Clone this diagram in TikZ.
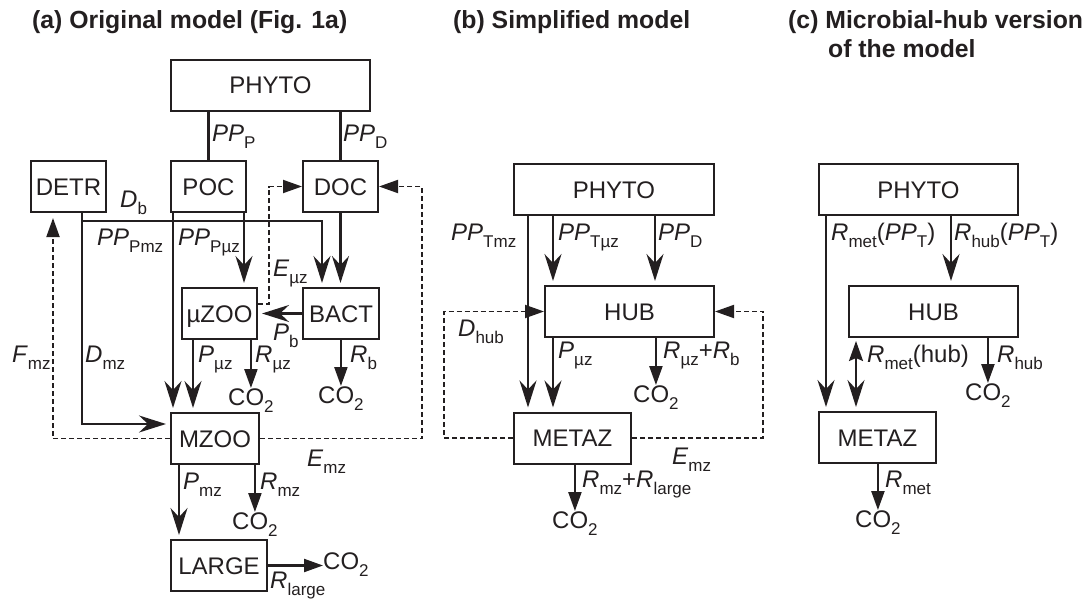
\documentclass[tikz,border=0pt]{standalone}
\usepackage{fontspec}
\setmainfont{Liberation Sans}
\usetikzlibrary{arrows.meta}
\definecolor{ink}{HTML}{231F20}
\newcommand{\lblfont}{\fontsize{24}{28}\selectfont}
\newcommand{\ttlfont}{\fontsize{24.8}{29}\selectfont\bfseries}
\newcommand{\lsb}[1]{\raisebox{-7pt}{\fontsize{17}{17}\selectfont #1}}
\tikzset{
    box/.style={draw=ink, line width=2pt, fill=white, inner sep=0pt,
        minimum height=51pt, text height=17pt, text depth=0pt, font=\lblfont, text=ink},
    link/.style={draw=ink, line width=2.2pt},
    flow/.style={link, -{Stealth[length=27pt,width=17pt,inset=9pt]}, shorten >=4pt},
    resp/.style={link, -{Triangle[length=19pt,width=13pt]}},
    excr/.style={draw=ink, line width=1.9pt, dash pattern=on 5pt off 3pt,
        -{Triangle[length=19pt,width=13pt]}},
    tag/.style={anchor=base west, inner sep=0pt, font=\lblfont, text=ink},
    title/.style={anchor=base west, inner sep=0pt, font=\ttlfont, text=ink},
}
\begin{document}
\begin{tikzpicture}[x=1pt, y=-1pt]
    \useasboundingbox (0,0) rectangle (1092,599);

    % titles
    \node[title] (ttlA) at (32,29) {(a) Original model (Fig. 1a)};
    \node[title] (ttlB) at (453,29) {(b) Simplified model};
    \node[title] (ttlC) at (788,29) {(c) Microbial-hub version};
    \node[title] (ttlC2) at (828,58) {of the model};

    % (a) original model
    \node[box, minimum width=199pt] (phyA) at (270.5,85.5) {PHYTO};
    \node[box, minimum width=75pt] (detrA) at (68.5,186.5) {DETR};
    \node[box, minimum width=75pt] (pocA) at (208.5,186.5) {POC};
    \node[box, minimum width=75pt] (docA) at (340.5,186.5) {DOC};
    \node[box, minimum width=75pt] (muA) at (219.5,313.5) {µZOO};
    \node[box, minimum width=76pt] (bactA) at (341,313.5) {BACT};
    \node[box, minimum width=88pt] (mzA) at (215,438.5) {MZOO};
    \node[box, minimum width=96pt] (largeA) at (219,565.5) {LARGE};
    \node[tag] (co2muA) at (228,405) {CO\lsb{2}};
    \node[tag] (co2bA) at (318,403) {CO\lsb{2}};
    \node[tag] (co2mzA) at (232,529) {CO\lsb{2}};
    \node[tag] (co2lgA) at (323,569) {CO\lsb{2}};

    \draw[link] (phyA.south -| pocA.north) -- (pocA.north);
    \draw[link] (phyA.south -| docA.north) -- (docA.north);
    \coordinate (dA) at ([xshift=13.5pt]detrA.south);
    \coordinate (dbA) at ([yshift=-8pt]dA);
    \draw[flow] (dA) |- ([yshift=14.5pt]mzA.west);
    \draw[flow] (dbA) -| ([xshift=-19pt]bactA.north);
    \draw[flow] ([xshift=3pt]pocA.south west) -- ([xshift=3pt]pocA.south west |- mzA.north);
    \draw[flow] ([xshift=-3pt]pocA.south east) -- ([xshift=-3pt]pocA.south east |- muA.north);
    \draw[flow] (docA.south) -- (docA.south |- bactA.north);
    \draw[flow] (bactA.west) -- (muA.east);
    \draw[excr] ([yshift=9.5pt]muA.east) -- ++(11,0) |- (docA.west);
    \draw[resp] (bactA.south -| co2bA.north) -- (co2bA.north);
    \draw[flow] ([xshift=12pt]muA.south west) -- ([xshift=12pt]muA.south west |- mzA.north);
    \draw[resp] (muA.south -| co2muA.north) -- (co2muA.north);
    \draw[excr, shorten >=5pt] (mzA.west) -| ([xshift=-15.5pt]detrA.south);
    \draw[excr] (mzA.east) -| ([xshift=43pt]docA.east) -- (docA.east);
    \draw[flow] ([xshift=9pt]mzA.south west) -- ([xshift=9pt]mzA.south west |- largeA.north);
    \draw[resp] (mzA.south -| co2mzA.north) -- (co2mzA.north);
    \draw[resp] (largeA.east) -- (largeA.east -| co2lgA.west);

    \node[tag] (ppPA) at (212,142) {\textit{PP}\lsb{P}};
    \node[tag] (ppDA) at (343,142) {\textit{PP}\lsb{D}};
    \node[tag] (dbLA) at (120,207) {\textit{D}\lsb{b}};
    \node[tag] (ppPmzA) at (97,245) {\textit{PP}\lsb{Pmz}};
    \node[tag] (ppPuzA) at (178,245) {\textit{PP}\lsb{Pµz}};
    \node[tag] (euzA) at (273,276) {\textit{E}\lsb{µz}};
    \node[tag] (pbA) at (273,340) {\textit{P}\lsb{b}};
    \node[tag] (fmzA) at (12,362) {\textit{F}\lsb{mz}};
    \node[tag] (dmzA) at (85,362) {\textit{D}\lsb{mz}};
    \node[tag] (puzA) at (198,362) {\textit{P}\lsb{µz}};
    \node[tag] (ruzA) at (255,362) {\textit{R}\lsb{µz}};
    \node[tag] (rbA) at (350,362) {\textit{R}\lsb{b}};
    \node[tag] (emzA) at (307,466) {\textit{E}\lsb{mz}};
    \node[tag] (pmzA) at (183,489) {\textit{P}\lsb{mz}};
    \node[tag] (rmzA) at (260,489) {\textit{R}\lsb{mz}};
    \node[tag] (rlgA) at (270,588) {\textit{R}\lsb{large}};

    % (b) simplified model
    \node[box, minimum width=200pt] (phyB) at (614,189.5) {PHYTO};
    \node[box, minimum width=169pt] (hubB) at (629.5,311.5) {HUB};
    \node[box, minimum width=117pt] (metB) at (572.5,438) {METAZ};
    \node[tag] (co2hB) at (633,402) {CO\lsb{2}};
    \node[tag] (co2mB) at (552,528) {CO\lsb{2}};

    \draw[flow] ([xshift=15pt]phyB.south west) -- ([xshift=15pt]phyB.south west |- metB.north);
    \draw[flow] ([xshift=40pt]phyB.south west) -- ([xshift=40pt]phyB.south west |- hubB.north);
    \draw[flow] ([xshift=-60pt]phyB.south east) -- ([xshift=-60pt]phyB.south east |- hubB.north);
    \draw[excr] (metB.west) -| ([xshift=-100pt]hubB.west) -- (hubB.west);
    \draw[excr] (metB.east) -| ([xshift=48pt]hubB.east) -- (hubB.east);
    \draw[flow] ([xshift=9pt]hubB.south west) -- ([xshift=9pt]hubB.south west |- metB.north);
    \draw[resp] (hubB.south -| co2hB.north) -- (co2hB.north);
    \draw[resp] (metB.south -| co2mB.north) -- (co2mB.north);

    \node[tag] (ppTmzB) at (451,240) {\textit{PP}\lsb{Tmz}};
    \node[tag] (ppTuzB) at (558,240) {\textit{PP}\lsb{Tµz}};
    \node[tag] (ppDB) at (658,240) {\textit{PP}\lsb{D}};
    \node[tag] (dhubB) at (458,336) {\textit{D}\lsb{hub}};
    \node[tag] (puzB) at (558,358) {\textit{P}\lsb{µz}};
    \node[tag] (rhubB) at (663,358) {\textit{R}\lsb{µz}+\textit{R}\lsb{b}};
    \node[tag] (emzB) at (672,464) {\textit{E}\lsb{mz}};
    \node[tag] (rmetB) at (582,487) {\textit{R}\lsb{mz}+\textit{R}\lsb{large}};

    % (c) microbial-hub version
    \node[box, minimum width=199pt] (phyC) at (918.5,189.5) {PHYTO};
    \node[box, minimum width=169pt] (hubC) at (933.5,311.5) {HUB};
    \node[box, minimum width=117pt] (metC) at (877.5,437.5) {METAZ};
    \node[tag] (co2hC) at (965,400) {CO\lsb{2}};
    \node[tag] (co2mC) at (855,527) {CO\lsb{2}};

    \draw[flow] ([xshift=8pt]phyC.south west) -- ([xshift=8pt]phyC.south west |- metC.north);
    \draw[flow] ([xshift=-68pt]phyC.south east) -- ([xshift=-68pt]phyC.south east |- hubC.north);
    \draw[link, {Stealth[length=20pt,width=14pt,inset=3pt]}-{Stealth[length=27pt,width=17pt,inset=9pt]},
        shorten <=3pt, shorten >=4pt]
        ([xshift=8pt]hubC.south west) -- ([xshift=8pt]hubC.south west |- metC.north);
    \draw[resp] (hubC.south -| co2hC.north) -- (co2hC.north);
    \draw[resp] (metC.south -| co2mC.north) -- (co2mC.north);

    \node[tag] (rmetC) at (831,240) {\textit{R}\lsb{met}(\textit{PP}\lsb{T})};
    \node[tag] (rhubC) at (954,240) {\textit{R}\lsb{hub}(\textit{PP}\lsb{T})};
    \node[tag] (rmhC) at (867,362) {\textit{R}\lsb{met}(hub)};
    \node[tag] (rhC) at (997,362) {\textit{R}\lsb{hub}};
    \node[tag] (rmC) at (885,487) {\textit{R}\lsb{met}};
\end{tikzpicture}
\end{document}
